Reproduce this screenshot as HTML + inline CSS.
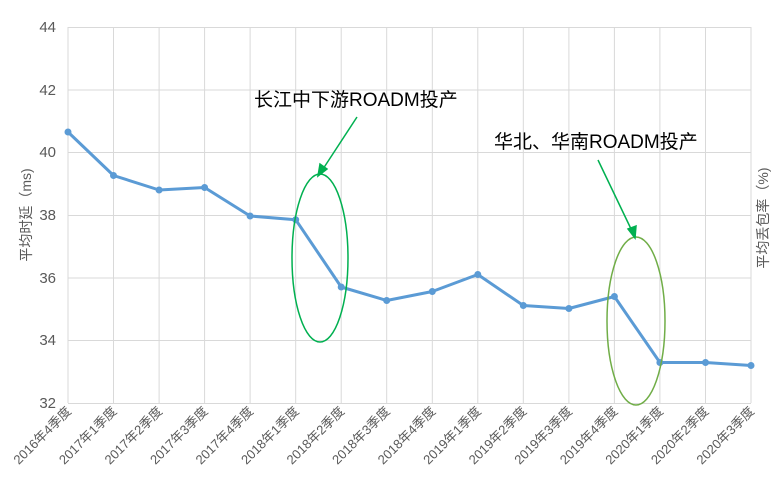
<!DOCTYPE html>
<html><head><meta charset="utf-8"><style>
body{margin:0;background:#fff;width:784px;height:478px;overflow:hidden}
text{font-family:"Liberation Sans","Noto Sans CJK SC",sans-serif}
</style></head><body>
<svg width="784" height="478" xmlns="http://www.w3.org/2000/svg">
<g stroke="#d9d9d9" stroke-width="1">
<line x1="68" y1="27.5" x2="751" y2="27.5"/><line x1="68" y1="90" x2="751" y2="90"/><line x1="68" y1="152.5" x2="751" y2="152.5"/><line x1="68" y1="215.5" x2="751" y2="215.5"/><line x1="68" y1="278" x2="751" y2="278"/><line x1="68" y1="340.5" x2="751" y2="340.5"/><line x1="68" y1="403.5" x2="751" y2="403.5"/>
<line x1="68" y1="27" x2="68" y2="403"/><line x1="113.5" y1="27" x2="113.5" y2="403"/><line x1="159.1" y1="27" x2="159.1" y2="403"/><line x1="204.6" y1="27" x2="204.6" y2="403"/><line x1="250.1" y1="27" x2="250.1" y2="403"/><line x1="295.7" y1="27" x2="295.7" y2="403"/><line x1="341.2" y1="27" x2="341.2" y2="403"/><line x1="386.7" y1="27" x2="386.7" y2="403"/><line x1="432.3" y1="27" x2="432.3" y2="403"/><line x1="477.8" y1="27" x2="477.8" y2="403"/><line x1="523.3" y1="27" x2="523.3" y2="403"/><line x1="568.9" y1="27" x2="568.9" y2="403"/><line x1="614.4" y1="27" x2="614.4" y2="403"/><line x1="659.9" y1="27" x2="659.9" y2="403"/><line x1="705.5" y1="27" x2="705.5" y2="403"/><line x1="751" y1="27" x2="751" y2="403"/>
</g>
<g font-size="15" fill="#595959" text-anchor="end">
<text x="56" y="32">44</text><text x="56" y="95">42</text><text x="56" y="157">40</text><text x="56" y="220">38</text><text x="56" y="283">36</text><text x="56" y="345">34</text><text x="56" y="408">32</text>
</g>
<text transform="translate(31,215) rotate(-90)" font-size="14" fill="#595959" text-anchor="middle">平均时延（ms)</text>
<text transform="translate(768,218) rotate(-90)" font-size="14" fill="#595959" text-anchor="middle">平均丢包率（%)</text>
<g font-size="13" fill="#595959" text-anchor="end">
<text transform="translate(72,412) rotate(-45)">2016年4季度</text>
<text transform="translate(117.5,412) rotate(-45)">2017年1季度</text>
<text transform="translate(163.1,412) rotate(-45)">2017年2季度</text>
<text transform="translate(208.6,412) rotate(-45)">2017年3季度</text>
<text transform="translate(254.1,412) rotate(-45)">2017年4季度</text>
<text transform="translate(299.7,412) rotate(-45)">2018年1季度</text>
<text transform="translate(345.2,412) rotate(-45)">2018年2季度</text>
<text transform="translate(390.7,412) rotate(-45)">2018年3季度</text>
<text transform="translate(436.3,412) rotate(-45)">2018年4季度</text>
<text transform="translate(481.8,412) rotate(-45)">2019年1季度</text>
<text transform="translate(527.3,412) rotate(-45)">2019年2季度</text>
<text transform="translate(572.9,412) rotate(-45)">2019年3季度</text>
<text transform="translate(618.4,412) rotate(-45)">2019年4季度</text>
<text transform="translate(663.9,412) rotate(-45)">2020年1季度</text>
<text transform="translate(709.5,412) rotate(-45)">2020年2季度</text>
<text transform="translate(755,412) rotate(-45)">2020年3季度</text>
</g>
<polyline fill="none" stroke="#5b9bd5" stroke-width="3" stroke-linejoin="round" points="68,132 113.5,175.5 159.1,190 204.6,187.5 250.1,216 295.7,219.7 341.2,287 386.7,300.5 432.3,291.5 477.8,274.5 523.3,305.5 568.9,308.5 614.4,296.5 659.9,362.5 705.5,362.5 751,365.5"/>
<g fill="#5b9bd5">
<circle cx="68" cy="132" r="3.5"/><circle cx="113.5" cy="175.5" r="3.5"/><circle cx="159.1" cy="190" r="3.5"/><circle cx="204.6" cy="187.5" r="3.5"/><circle cx="250.1" cy="216" r="3.5"/><circle cx="295.7" cy="219.7" r="3.5"/><circle cx="341.2" cy="287" r="3.5"/><circle cx="386.7" cy="300.5" r="3.5"/><circle cx="432.3" cy="291.5" r="3.5"/><circle cx="477.8" cy="274.5" r="3.5"/><circle cx="523.3" cy="305.5" r="3.5"/><circle cx="568.9" cy="308.5" r="3.5"/><circle cx="614.4" cy="296.5" r="3.5"/><circle cx="659.9" cy="362.5" r="3.5"/><circle cx="705.5" cy="362.5" r="3.5"/><circle cx="751" cy="365.5" r="3.5"/>
</g>
<ellipse cx="320" cy="258" rx="28" ry="84" fill="none" stroke="#00b050" stroke-width="1.5"/>
<ellipse cx="636" cy="321" rx="29" ry="84" fill="none" stroke="#70ad47" stroke-width="1.5"/>
<g stroke="#00b050" stroke-width="1.5" fill="#00b050">
<line x1="357" y1="117" x2="323" y2="169"/>
<polygon points="318,176 320,164 327,169"/>
<line x1="598" y1="160" x2="632" y2="231"/>
<polygon points="635,238 628,229 636,226"/>
</g>
<g font-size="19" fill="#000">
<text x="254" y="106">长江中下游ROADM投产</text>
<text x="494" y="148">华北、华南ROADM投产</text>
</g>
</svg>
</body></html>
